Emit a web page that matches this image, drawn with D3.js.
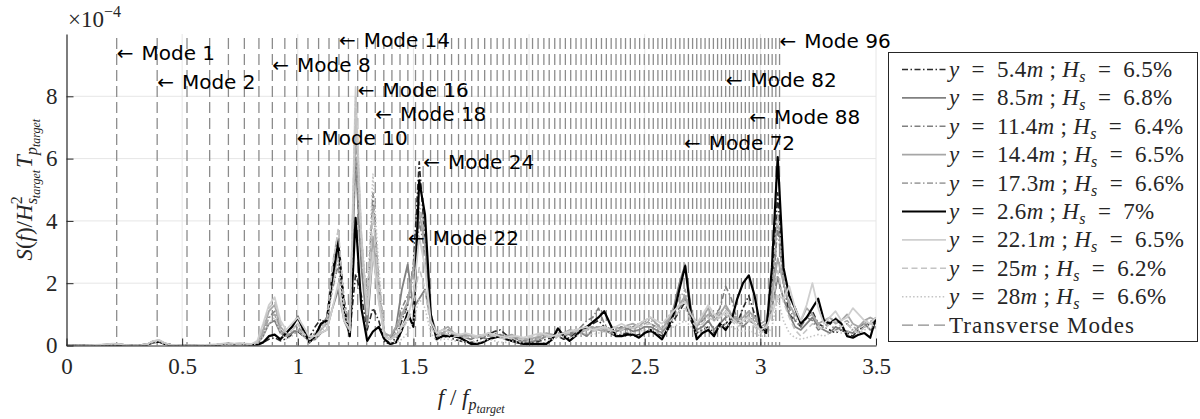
<!DOCTYPE html>
<html><head><meta charset="utf-8">
<script src="https://cdn.jsdelivr.net/npm/d3@7/dist/d3.min.js"></script>
<style>body{margin:0;background:#fff} svg{display:block}</style>
</head><body>
<svg id="c" width="1200" height="419"></svg>
<script>
// ---------------- DATA ----------------
// frequency bins f/f_p (uniform FFT grid, 0 .. 3.5)
const freqs = d3.range(0, 141).map(i => +(i * 0.025).toFixed(3));

// spectra, units of 1e-4 (segments: 0-0.8 | 0.825-1.6 | 1.625-2.5 | 2.525-3.5)
const s_5_4 = [0,0,0,0,0.01,0.01,0.01,0.02,0.03,0.02,0.01,0.01,0.01,0.01,0.04,0.13,0.14,0.05,0.02,0.01,0.01,0.01,0.01,0.01,0.01,0.01,0.02,0.03,0.04,0.03,0.04,0.03,0.02,
 0.03,0.1,0.2,0.25,0.15,0.22,0.35,0.45,0.3,0.25,0.6,0.85,0.7,2.4,3.4,1.5,0.4,2.3,1.6,0.5,1.2,0.8,0.1,0.05,0.25,0.8,1.3,2.6,5.9,3.4,0.8,0.3,
 0.25,0.3,0.2,0.15,0.1,0.1,0.15,0.25,0.35,0.45,0.5,0.35,0.2,0.1,0.05,0.05,0.1,0.15,0.2,0.25,0.3,0.2,0.25,0.4,0.5,0.6,0.7,0.8,0.6,0.4,0.3,0.35,0.4,0.3,0.35,0.4,
 0.45,0.4,0.3,0.5,0.8,1.1,1.4,0.8,0.4,0.5,0.6,0.4,0.6,0.7,0.9,0.7,1.2,1.6,1.0,0.5,0.6,1.8,4.9,2.0,1.0,0.8,0.6,0.9,1.1,0.7,0.6,0.5,0.4,0.5,0.4,0.3,0.5,0.6,0.7,0.8];
const s_8_5 = [0,0,0,0,0.01,0.01,0.02,0.03,0.05,0.04,0.02,0.01,0.01,0.01,0.04,0.14,0.16,0.07,0.02,0.01,0.01,0.01,0.01,0.01,0.02,0.02,0.03,0.05,0.06,0.05,0.06,0.05,0.04,
 0.05,0.3,0.7,0.8,0.4,0.3,0.4,0.5,0.3,0.15,0.2,0.4,0.5,1.2,1.8,0.8,0.4,6.0,2.5,0.6,3.0,1.5,0.3,0.2,0.6,1.8,2.6,1.2,1.5,1.8,0.8,0.3,
 0.4,0.5,0.35,0.3,0.25,0.2,0.3,0.25,0.2,0.3,0.35,0.25,0.3,0.2,0.1,0.1,0.15,0.2,0.3,0.25,0.3,0.4,0.35,0.5,0.4,0.3,0.5,0.6,0.5,0.4,0.45,0.5,0.55,0.45,0.5,0.6,
 0.6,0.5,0.4,0.7,1.2,2.0,2.6,1.2,0.5,0.6,0.8,0.5,0.7,0.9,1.0,0.8,0.6,0.8,0.7,0.5,0.6,1.2,2.2,1.5,1.0,0.6,0.5,0.7,0.9,0.6,0.5,0.4,0.6,0.5,0.45,0.4,0.6,0.7,0.5,0.6];
const s_11_4 = [0,0,0,0,0.01,0.01,0.01,0.02,0.04,0.03,0.01,0.01,0.01,0.01,0.03,0.12,0.15,0.06,0.02,0.01,0.01,0.01,0.01,0.01,0.01,0.01,0.02,0.04,0.05,0.04,0.05,0.04,0.03,
 0.05,0.4,0.9,1.1,0.5,0.3,0.4,0.6,0.4,0.2,0.4,0.6,0.9,1.8,2.6,1.0,0.5,7.0,3.0,1.2,4.9,2.0,0.3,0.2,0.5,1.2,1.6,1.5,4.0,3.0,0.9,0.4,
 0.35,0.4,0.3,0.35,0.3,0.25,0.3,0.35,0.3,0.4,0.3,0.3,0.25,0.2,0.15,0.15,0.2,0.3,0.35,0.3,0.4,0.35,0.3,0.45,0.6,0.8,0.9,1.2,0.7,0.5,0.5,0.6,0.5,0.6,0.7,0.8,
 0.7,0.6,0.5,0.8,1.0,1.2,1.5,0.9,0.6,0.8,1.0,0.9,1.2,1.9,1.5,0.8,0.7,0.9,0.8,0.6,0.7,1.5,3.8,2.0,1.2,0.8,0.6,0.9,0.8,0.5,0.6,0.7,0.5,0.6,0.7,0.5,0.4,0.6,0.8,0.7];
const s_14_4 = [0,0,0,0,0.01,0.02,0.02,0.03,0.05,0.04,0.02,0.01,0.01,0.02,0.04,0.13,0.16,0.07,0.03,0.01,0.01,0.01,0.01,0.01,0.02,0.02,0.03,0.05,0.06,0.05,0.06,0.05,0.04,
 0.1,0.5,1.1,1.3,0.6,0.4,0.6,0.95,0.5,0.2,0.3,0.5,0.7,2.0,3.0,1.2,0.6,7.5,3.5,1.0,3.5,1.6,0.4,0.3,0.6,1.0,1.4,2.5,4.3,3.2,1.0,0.4,
 0.5,0.6,0.4,0.3,0.35,0.3,0.25,0.3,0.4,0.3,0.25,0.3,0.35,0.25,0.2,0.2,0.25,0.3,0.4,0.35,0.3,0.4,0.5,0.45,0.4,0.55,0.6,0.5,0.45,0.55,0.6,0.5,0.65,0.7,0.6,0.8,
 0.9,0.7,0.5,0.8,1.1,1.3,1.6,1.0,0.6,0.9,1.2,0.8,1.0,1.3,1.0,0.8,0.9,1.1,0.9,0.7,0.8,1.6,2.8,2.0,1.3,1.0,0.8,1.2,1.0,0.7,0.8,0.9,0.7,0.8,1.0,0.7,0.6,0.8,0.9,0.8];
const s_17_3 = [0,0,0,0,0.01,0.01,0.02,0.03,0.04,0.03,0.01,0.01,0.01,0.01,0.03,0.11,0.14,0.06,0.02,0.01,0.01,0.01,0.01,0.01,0.01,0.02,0.02,0.04,0.05,0.04,0.05,0.04,0.03,
 0.08,0.4,0.9,1.0,0.5,0.3,0.5,0.7,0.4,0.2,0.4,0.6,0.9,2.6,3.7,1.4,0.6,6.5,3.0,1.3,4.5,2.2,0.4,0.2,0.4,0.9,1.3,2.2,4.6,3.5,1.0,0.4,
 0.4,0.45,0.35,0.3,0.3,0.25,0.3,0.35,0.3,0.35,0.3,0.25,0.3,0.25,0.2,0.2,0.2,0.25,0.3,0.35,0.3,0.35,0.4,0.5,0.45,0.5,0.55,0.6,0.55,0.5,0.5,0.55,0.6,0.55,0.6,0.7,
 0.8,0.7,0.6,0.9,1.2,1.5,1.8,1.1,0.7,0.8,1.0,0.9,1.1,1.2,1.0,0.9,0.8,1.0,0.9,0.6,0.7,1.7,4.2,2.2,1.4,0.9,0.7,0.9,1.0,0.7,0.6,0.8,0.9,0.7,0.8,0.6,0.5,0.7,0.9,0.8];
const s_2_6 = [0,0,0,0,0.01,0.01,0.01,0.02,0.03,0.02,0.01,0.01,0.01,0.01,0.03,0.1,0.12,0.05,0.02,0.01,0.01,0.01,0.01,0.01,0.01,0.01,0.02,0.04,0.05,0.03,0.04,0.03,0.02,
 0.02,0.1,0.3,0.35,0.2,0.4,0.6,0.9,0.5,0.1,0.3,0.7,0.8,2.2,3.3,1.2,0.3,4.1,1.2,0.15,0.45,0.6,0.2,0.05,0.1,0.5,1.05,0.6,5.3,4.2,1.0,0.2,
 0.3,0.32,0.3,0.25,0.15,0.05,0.05,0.1,0.2,0.25,0.3,0.2,0.15,0.1,0.05,0.05,0.05,0.05,0.05,0.2,0.55,0.3,0.15,0.3,0.5,0.6,0.75,0.9,1.1,0.7,0.3,0.3,0.35,0.35,0.25,0.4,
 0.5,0.35,0.2,0.55,1.0,1.8,2.55,1.0,0.2,0.4,0.5,0.3,0.7,0.5,0.8,1.5,2.0,2.25,1.6,0.6,0.4,2.5,6.05,2.5,1.6,1.2,0.7,0.9,1.2,1.5,0.8,0.7,0.85,0.7,0.3,0.25,0.35,0.4,0.25,0.9];
const s_22_1 = [0,0,0,0,0.01,0.02,0.03,0.04,0.06,0.05,0.02,0.01,0.01,0.02,0.05,0.14,0.18,0.08,0.03,0.02,0.01,0.01,0.01,0.02,0.02,0.03,0.04,0.06,0.07,0.06,0.07,0.06,0.05,
 0.15,0.7,1.3,1.55,0.8,0.5,0.7,0.9,0.6,0.3,0.3,0.4,0.5,1.2,2.0,0.8,0.5,8.3,3.5,1.0,3.0,1.4,0.3,0.2,0.3,0.6,0.9,1.6,3.5,2.5,0.8,0.4,
 0.5,0.45,0.4,0.35,0.4,0.35,0.3,0.35,0.4,0.35,0.3,0.25,0.3,0.3,0.25,0.3,0.35,0.4,0.35,0.3,0.35,0.4,0.45,0.5,0.55,0.6,0.5,0.55,0.6,0.5,0.6,0.7,0.6,0.55,0.7,0.8,
 0.9,0.8,0.7,0.9,1.1,1.3,1.4,1.0,0.7,1.0,1.3,1.0,0.9,1.1,0.9,0.7,0.8,0.9,0.7,0.5,0.6,1.0,1.6,1.5,1.9,1.2,0.8,1.3,2.0,1.2,0.7,0.9,1.1,0.8,0.9,1.2,1.0,0.8,0.7,0.9];
const s_25 = [0,0,0,0,0.01,0.01,0.02,0.03,0.05,0.04,0.02,0.01,0.01,0.01,0.04,0.12,0.15,0.07,0.02,0.01,0.01,0.01,0.01,0.01,0.02,0.02,0.03,0.05,0.06,0.04,0.05,0.05,0.04,
 0.1,0.6,1.2,1.4,0.7,0.4,0.5,0.7,0.4,0.2,0.3,0.5,0.8,2.5,3.75,1.3,0.5,7.8,3.2,1.1,4.2,1.8,0.3,0.2,0.3,0.5,0.8,1.2,2.5,1.8,0.6,0.3,
 0.4,0.35,0.3,0.3,0.25,0.3,0.25,0.3,0.35,0.3,0.25,0.2,0.25,0.2,0.2,0.25,0.3,0.35,0.3,0.25,0.3,0.35,0.4,0.45,0.5,0.5,0.45,0.5,0.55,0.5,0.45,0.5,0.6,0.55,0.6,0.65,
 0.7,0.6,0.5,0.7,0.9,1.1,1.2,0.8,0.6,0.7,0.9,0.8,0.9,1.0,0.8,0.6,0.7,0.8,0.6,0.4,0.5,1.2,2.4,1.4,0.9,0.5,0.3,0.5,0.7,0.6,0.5,0.7,0.8,0.6,0.7,0.5,0.4,0.6,0.7,0.6];
const s_28 = [0,0,0,0,0.01,0.01,0.01,0.02,0.03,0.03,0.01,0.01,0.01,0.01,0.03,0.1,0.13,0.05,0.02,0.01,0.01,0.01,0.01,0.01,0.01,0.01,0.02,0.03,0.04,0.03,0.04,0.03,0.03,
 0.05,0.3,0.7,0.9,0.4,0.2,0.3,0.5,0.3,0.1,0.2,0.4,0.7,1.8,2.8,1.0,0.4,8.0,3.5,1.5,5.5,2.5,0.4,0.1,0.1,0.2,0.4,0.8,1.5,1.2,0.4,0.15,
 0.2,0.2,0.15,0.15,0.1,0.15,0.1,0.15,0.2,0.15,0.1,0.1,0.15,0.1,0.1,0.15,0.2,0.2,0.15,0.2,0.25,0.3,0.25,0.3,0.35,0.4,0.35,0.4,0.45,0.4,0.35,0.4,0.45,0.4,0.45,0.5,
 0.5,0.45,0.4,0.5,0.6,0.7,0.8,0.6,0.4,0.5,0.6,0.5,0.6,0.7,0.6,0.5,0.45,0.5,0.4,0.3,0.3,0.6,1.5,0.8,0.4,0.25,0.2,0.25,0.3,0.35,0.3,0.4,0.5,0.4,0.45,0.5,0.4,0.5,0.6,0.55];

const seriesNames = ["5.4", "8.5", "11.4", "14.4", "17.3", "2.6", "22.1", "25", "28"];
const seriesHs    = ["6.5", "6.8", "6.4", "6.5", "6.6", "7", "6.5", "6.2", "6.6"];
const seriesValues = [s_5_4, s_8_5, s_11_4, s_14_4, s_17_3, s_2_6, s_22_1, s_25, s_28];

// transverse mode frequencies, modes 1..96 (f/f_p)
const modeFreqs = [0.217,0.392,0.521,0.619,0.700,0.769,0.832,0.890,0.944,0.995,
 1.044,1.090,1.135,1.178,1.219,1.259,1.298,1.335,1.372,1.407,1.442,1.476,1.509,1.542,1.574,
 1.605,1.635,1.665,1.695,1.724,1.752,1.780,1.808,1.835,1.862,1.888,1.914,1.940,1.965,1.990,
 2.015,2.039,2.064,2.087,2.111,2.134,2.157,2.180,2.203,2.225,2.247,2.269,2.291,2.313,2.334,
 2.355,2.376,2.397,2.417,2.438,2.458,2.478,2.498,2.518,2.537,2.557,2.576,2.595,2.614,2.633,
 2.652,2.670,2.689,2.707,2.725,2.743,2.761,2.779,2.797,2.815,2.832,2.850,2.867,2.884,2.901,
 2.918,2.935,2.952,2.969,2.985,3.002,3.019,3.035,3.051,3.067,3.083];

// annotated modes and the height (1e-4 units) of their labels
const annotatedModes = [1, 2, 8, 10, 14, 16, 18, 22, 24, 72, 82, 88, 96];
const annotationLevels = [9.40, 8.47, 9.00, 6.66, 9.80, 8.22, 7.44, 3.47, 5.90, 6.51, 8.52, 7.35, 9.78];

const xTicks = [0, 0.5, 1, 1.5, 2, 2.5, 3, 3.5];
const xTickLabels = ["0", "0.5", "1", "1.5", "2", "2.5", "3", "3.5"];
const yTicks = [0, 2, 4, 6, 8];

// ---------------- STYLES ----------------
const styles = [
  {color: "#2b2b2b", dash: "6,2.5,1.5,2.5", w: 1.6},
  {color: "#808080", dash: null, w: 1.8},
  {color: "#808080", dash: "6,2.5,1.5,2.5", w: 1.6},
  {color: "#a6a6a6", dash: null, w: 1.8},
  {color: "#a6a6a6", dash: "6,2.5,1.5,2.5", w: 1.6},
  {color: "#000000", dash: null, w: 2.2},
  {color: "#cfcfcf", dash: null, w: 1.8},
  {color: "#c4c4c4", dash: "6,3.5", w: 1.6},
  {color: "#c4c4c4", dash: "1.5,2.2", w: 1.6}
];
const modeStyle = {color: "#8c8c8c", dash: "11,5", w: 1.3};

const SERIF = "'Liberation Serif', 'Times New Roman', serif";
const SANS = "'DejaVu Sans', sans-serif";

// ---------------- CHART ----------------
const svg = d3.select("#c");
const x = d3.scaleLinear().domain([0, 3.5]).range([66.5, 876]);
const y = d3.scaleLinear().domain([0, 10]).range([345.5, 34]);

svg.append("defs").append("clipPath").attr("id", "clip")
  .append("rect").attr("x", 66.5).attr("y", 34).attr("width", 876 - 66.5).attr("height", 345.5 - 34);

// grid
const grid = svg.append("g");
grid.selectAll(".gx").data(xTicks.filter(d => d > 0)).join("line")
  .attr("x1", d => x(d)).attr("x2", d => x(d)).attr("y1", y(10)).attr("y2", y(0))
  .attr("stroke", "#e6e6e6").attr("stroke-width", 1);
grid.selectAll(".gy").data(yTicks.filter(d => d > 0)).join("line")
  .attr("x1", x(0)).attr("x2", x(3.5)).attr("y1", d => y(d)).attr("y2", d => y(d))
  .attr("stroke", "#e6e6e6").attr("stroke-width", 1);

// transverse modes
const plot = svg.append("g").attr("clip-path", "url(#clip)");
plot.append("g").selectAll("line").data(modeFreqs).join("line")
  .attr("x1", d => x(d)).attr("x2", d => x(d)).attr("y1", y(9.87)).attr("y2", y(0))
  .attr("stroke", modeStyle.color).attr("stroke-width", modeStyle.w)
  .attr("stroke-dasharray", modeStyle.dash);

// spectra
const line = d3.line().x((d, i) => x(freqs[i])).y(d => y(d));
seriesValues.forEach((vals, k) => {
  plot.append("path").datum(vals)
    .attr("d", line)
    .attr("fill", "none")
    .attr("stroke", styles[k].color)
    .attr("stroke-width", styles[k].w)
    .attr("stroke-linejoin", "round")
    .attr("stroke-dasharray", styles[k].dash);
});

// axes
const xAxis = d3.axisBottom(x).tickValues(xTicks).tickFormat((d, i) => xTickLabels[i])
  .tickSizeInner(-7).tickSizeOuter(0).tickPadding(12);
const gx = svg.append("g").attr("transform", `translate(0,${y(0)})`).call(xAxis);
gx.select(".domain").attr("stroke", "#262626").attr("stroke-width", 1.2);
gx.selectAll(".tick line").attr("stroke", "#262626");
gx.selectAll("text").attr("font-family", SERIF).attr("font-size", 23).attr("fill", "#262626");

const yAxis = d3.axisLeft(y).tickValues(yTicks).tickSizeInner(-7).tickSizeOuter(0).tickPadding(9);
const gy = svg.append("g").attr("transform", `translate(${x(0)},0)`).call(yAxis);
gy.select(".domain").attr("stroke", "#262626").attr("stroke-width", 1.2);
gy.selectAll(".tick line").attr("stroke", "#262626");
gy.selectAll("text").attr("font-family", SERIF).attr("font-size", 23).attr("fill", "#262626");

// rich text helper: parts {t, it, size, off (baseline offset, + = down), dx}
function rich(textSel, parts, baseSize) {
  let cur = 0;
  parts.forEach(p => {
    const off = p.off || 0;
    const ts = textSel.append("tspan").text(p.t)
      .attr("font-size", p.size || baseSize)
      .attr("font-style", p.it ? "italic" : "normal");
    if (off - cur !== 0) ts.attr("dy", off - cur);
    if (p.dx) ts.attr("dx", p.dx);
    cur = off;
  });
}

// ×10^-4
const expo = svg.append("text").attr("x", 68).attr("y", 27)
  .attr("font-family", SERIF).attr("fill", "#262626");
rich(expo, [{t: "×10"}, {t: "−4", size: 16, off: -10}], 23);

// y label
const ylab = svg.append("text").attr("text-anchor", "middle")
  .attr("transform", `translate(32,${(y(0) + y(10)) / 2}) rotate(-90)`)
  .attr("font-family", SERIF).attr("fill", "#262626").style("white-space", "pre");
rich(ylab, [
  {t: "S", it: true}, {t: "("}, {t: "f", it: true}, {t: ")/"}, {t: "H", it: true},
  {t: "2", size: 16, off: -10},
  {t: "s", it: true, size: 16, off: 5, dx: -8},
  {t: "target", it: true, size: 12, off: 8},
  {t: "T", it: true, off: 0, dx: 2},
  {t: "p", it: true, size: 16, off: 5},
  {t: "target", it: true, size: 12, off: 8}
], 23);

// x label
const xlab = svg.append("text").attr("text-anchor", "middle")
  .attr("x", (x(0) + x(3.5)) / 2).attr("y", 405)
  .attr("font-family", SERIF).attr("fill", "#262626").style("white-space", "pre");
rich(xlab, [
  {t: "f", it: true}, {t: " / "}, {t: "f", it: true},
  {t: "p", it: true, size: 16, off: 5},
  {t: "target", it: true, size: 12, off: 8}
], 23);

// mode annotations
const ann = svg.append("g").selectAll("text").data(annotatedModes).join("text")
  .attr("x", d => x(modeFreqs[d - 1]))
  .attr("y", (d, i) => y(annotationLevels[i]))
  .attr("dy", "0.36em")
  .attr("font-family", SANS).attr("font-size", 20).attr("fill", "#000")
  .style("white-space", "pre");
ann.append("tspan").text("←");
ann.append("tspan").attr("dx", 8).text(d => "Mode " + d);

// legend
const lg = svg.append("g");
lg.append("rect").attr("x", 888.5).attr("y", 52.5).attr("width", 309).attr("height", 289)
  .attr("fill", "#fff").attr("stroke", "#262626").attr("stroke-width", 1);
const rowY = i => 69.5 + i * 28.4;
const legendItems = seriesNames.map((n, i) => ({name: n, hs: seriesHs[i], st: styles[i]}))
  .concat([{name: null, st: modeStyle}]);
legendItems.forEach((it, i) => {
  lg.append("line").attr("x1", 902).attr("x2", 946).attr("y1", rowY(i)).attr("y2", rowY(i))
    .attr("stroke", it.st.color).attr("stroke-width", it.st.w)
    .attr("stroke-dasharray", it.st.dash);
  const t = lg.append("text").attr("x", 949).attr("y", rowY(i) + 7.5)
    .attr("font-family", SERIF).attr("fill", "#262626").style("white-space", "pre");
  if (it.name === null) {
    t.attr("letter-spacing", 1.1);
    rich(t, [{t: "Transverse Modes"}], 23);
  } else {
    t.attr("letter-spacing", 0.3);
    rich(t, [
      {t: "y", it: true}, {t: "  =  " + it.name}, {t: "m", it: true}, {t: " ; "},
      {t: "H", it: true}, {t: "s", it: true, size: 16, off: 5}, {t: "  =  " + it.hs + "%", off: 0}
    ], 23);
  }
});
</script>
</body></html>
